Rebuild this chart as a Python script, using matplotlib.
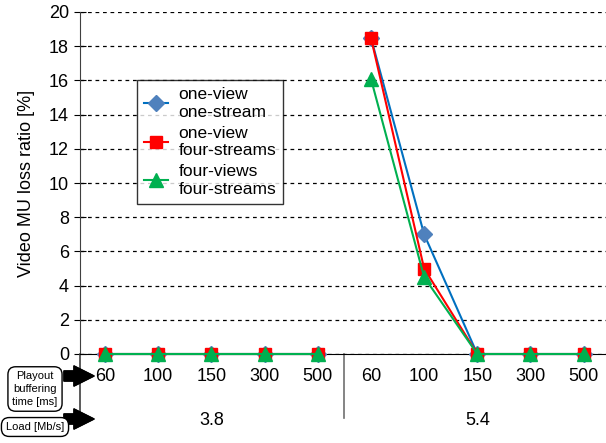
import matplotlib.pyplot as plt
from matplotlib.lines import Line2D

plt.rcParams['font.family'] = ['Liberation Sans', 'DejaVu Sans']

buffering = ["60", "100", "150", "300", "500"]
loads = ["3.8", "5.4"]

# loss ratio [%] per load group, one list per buffering time
one_view_one_stream = [[0, 0, 0, 0, 0], [18.5, 7.0, 0, 0, 0]]
one_view_four_streams = [[0, 0, 0, 0, 0], [18.5, 5.0, 0, 0, 0]]
four_views_four_streams = [[0, 0, 0, 0, 0], [16.1, 4.5, 0, 0, 0]]

series = [
    ("one-view\none-stream", one_view_one_stream, "#0070C0", "#4F81BD", "D", 8),
    ("one-view\nfour-streams", one_view_four_streams, "#FF0000", "#FF0000", "s", 8),
    ("four-views\nfour-streams", four_views_four_streams, "#00B050", "#00B050", "^", 10),
]

fig = plt.figure(figsize=(6.06, 4.43), dpi=100)
ax = fig.add_axes([80 / 606, 1 - 354 / 443, 526 / 606, 342 / 443])

n = len(buffering)
for label, groups, lc, mc, mk, ms in series:
    for g, vals in enumerate(groups):
        xs = [g * n + i for i in range(n)]
        ax.plot(xs, vals, color=lc, lw=1.5, marker=mk, markersize=ms,
                markerfacecolor=mc, markeredgecolor=mc, clip_on=False,
                label=label if g == 0 else None, zorder=3)

ax.set_ylim(0, 20)
ax.set_yticks(range(0, 21, 2))
ax.set_xlim(-0.47, 9.42)
ax.set_xticks(range(2 * n))
ax.set_xticklabels(buffering * 2)
ax.tick_params(axis="x", length=0, labelsize=13, pad=10)
ax.tick_params(axis="y", direction="inout", length=8, labelsize=13, pad=4)
ax.yaxis.grid(True, linestyle=(0, (3, 3)), color="black", lw=0.9)
ax.set_axisbelow(True)
for side in ["top", "right"]:
    ax.spines[side].set_visible(False)
ax.spines["left"].set_color("#404040")
ax.spines["bottom"].set_color("black")
ax.set_ylabel("Video MU loss ratio [%]", fontsize=13, labelpad=10)

# second row of category labels and separators
xt = ax.get_xaxis_transform()
for g, ld in enumerate(loads):
    ax.text(g * n + 2, -0.195, ld, transform=xt, ha="center", va="center", fontsize=13)
ax.add_line(Line2D([4.5, 4.5], [0, -0.188], transform=xt, color="#707070", lw=1.2, clip_on=False))
ax.add_line(Line2D([-0.47, -0.47], [0, -0.19], transform=xt, color="#404040", lw=1.2, clip_on=False))

leg = ax.legend(loc="upper left", bbox_to_anchor=(0.108, 0.80), fontsize=12.5,
                frameon=True, fancybox=False, handlelength=1.4, labelspacing=0.35,
                borderpad=0.4, handletextpad=0.6, borderaxespad=0)
leg.get_frame().set_edgecolor("black")
leg.get_frame().set_linewidth(1.0)

# row titles with arrows on the left
box = dict(boxstyle="round,pad=0.4,rounding_size=0.7", fc="white", ec="black", lw=1)
fig.text(35 / 606, 1 - 389 / 443, "Playout\nbuffering\ntime [ms]", ha="center", va="center",
         fontsize=8, linespacing=1.35, bbox=box)
fig.text(35 / 606, 1 - 427 / 443, "Load [Mb/s]", ha="center", va="center",
         fontsize=8, bbox=box)
for ypx in [376, 419]:
    fig.add_artist(plt.annotate("", xy=(94 / 606, 1 - ypx / 443), xytext=(64 / 606, 1 - ypx / 443),
                                xycoords="figure fraction", textcoords="figure fraction",
                                arrowprops=dict(arrowstyle="simple,head_length=0.8,head_width=0.8,tail_width=0.4",
                                                fc="black", ec="black", mutation_scale=18,
                                                shrinkA=0, shrinkB=0)))

fig.savefig("out.png", dpi=100)
